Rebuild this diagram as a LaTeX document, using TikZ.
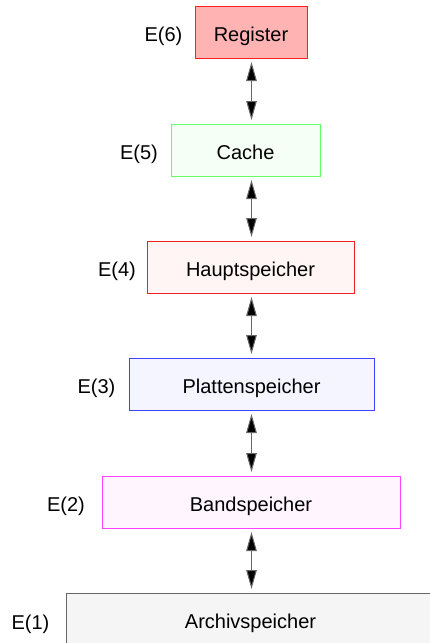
\documentclass[tikz,border=0pt]{standalone}
\usepackage{fontspec}
\setmainfont{Liberation Sans}
\usetikzlibrary{arrows.meta}

\definecolor{regfill}{HTML}{FFB3B3}
\definecolor{regline}{HTML}{FF2020}
\definecolor{cachefill}{HTML}{F6FFF6}
\definecolor{cacheline}{HTML}{66FF66}
\definecolor{hsfill}{HTML}{FFF5F5}
\definecolor{hsline}{HTML}{EE2222}
\definecolor{psfill}{HTML}{F5F5FF}
\definecolor{psline}{HTML}{4040FF}
\definecolor{bsfill}{HTML}{FFF5FF}
\definecolor{bsline}{HTML}{FF44FF}
\definecolor{asfill}{HTML}{F5F5F5}
\definecolor{asline}{HTML}{666666}

\tikzset{
  level/.style={draw, line width=1pt, inner sep=0pt, minimum height=52pt,
    font=\fontsize{20}{24}\selectfont, text height=18pt, text depth=0pt},
  lab/.style={inner sep=0pt, font=\fontsize{20}{24}\selectfont,
    text height=18pt, text depth=0pt},
  link/.style={draw=black!60, line width=1pt,
    {Triangle[length=19pt,width=10.5pt,fill=black]}-{Triangle[length=19pt,width=10.5pt,fill=black]},
    shorten <=3.5pt, shorten >=3.5pt}
}

\begin{document}
\begin{tikzpicture}[x=1pt,y=-1pt]
  \useasboundingbox (0,0) rectangle (430,643);

  % storage hierarchy levels
  \node[level, fill=regfill,   draw=regline,   minimum width=112pt] (reg)   at (251,32)    {Register};
  \node[level, fill=cachefill, draw=cacheline, minimum width=149pt] (cache) at (245.5,150) {Cache};
  \node[level, fill=hsfill,    draw=hsline,    minimum width=207pt] (hs)    at (250.5,267) {Hauptspeicher};
  \node[level, fill=psfill,    draw=psline,    minimum width=245pt] (ps)    at (251.5,384) {Plattenspeicher};
  \node[level, fill=bsfill,    draw=bsline,    minimum width=298pt] (bs)    at (251,502)   {Bandspeicher};
  \node[level, fill=asfill,    draw=asline,    minimum width=369pt] (as)    at (250.5,619) {Archivspeicher};

  % level labels
  \node[lab] (e6) at (163.5,32)  {E(6)};
  \node[lab] (e5) at (139,150)   {E(5)};
  \node[lab] (e4) at (117,267)   {E(4)};
  \node[lab] (e3) at (96.5,384)  {E(3)};
  \node[lab] (e2) at (66,502)    {E(2)};
  \node[lab] (e1) at (30.5,620)  {E(1)};

  % transfers between neighbouring levels
  \draw[link] ([xshift=0.5pt]reg.south) -- ([xshift=0.5pt]reg.south |- cache.north);
  \draw[link] ([xshift=0.5pt]reg.south |- cache.south) -- ([xshift=0.5pt]reg.south |- hs.north);
  \draw[link] ([xshift=0.5pt]reg.south |- hs.south) -- ([xshift=0.5pt]reg.south |- ps.north);
  \draw[link] ([xshift=0.5pt]reg.south |- ps.south) -- ([xshift=0.5pt]reg.south |- bs.north);
  \draw[link] ([xshift=0.5pt]reg.south |- bs.south) -- ([xshift=0.5pt]reg.south |- as.north);
\end{tikzpicture}
\end{document}
